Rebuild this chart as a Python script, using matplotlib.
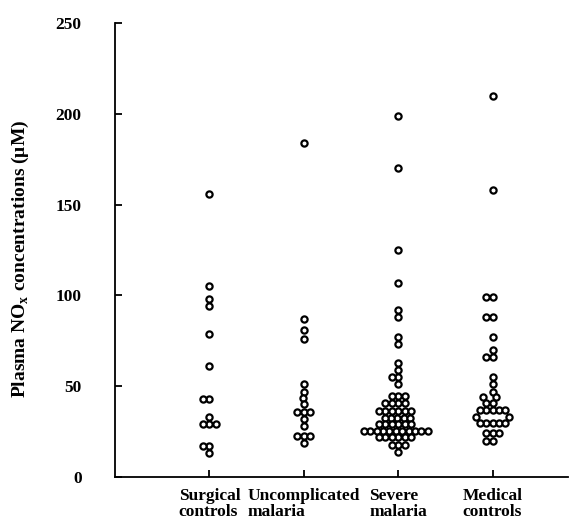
import numpy as np
import matplotlib
matplotlib.use('Agg')
from matplotlib import pyplot as plt

# values (uM)
groups = ['Surgical\ncontrols', 'Uncomplicated\nmalaria', 'Severe\nmalaria', 'Medical\ncontrols']

surgical = [156, 105, 98, 94, 79, 61, 43, 43, 33, 29, 29, 29, 17, 17, 13]
uncomplicated = [184, 87, 81, 76, 51, 47, 43.5, 40, 36, 36, 36, 32, 28,
                 22.5, 22.5, 22.5, 18.5]
severe = ([199, 170, 125, 107, 92, 88, 77, 73, 63, 59, 55, 55, 51]
          + [44.6] * 3 + [40.7] * 4 + [36.3] * 6 + [32.5] * 5 + [29] * 6
          + [25.3] * 11 + [22] * 6 + [17.6] * 3 + [13.8])
medical = ([210, 158, 99, 99, 88, 88, 77, 70, 66, 66, 55, 51, 47, 44, 44, 41, 41]
           + [37] * 5 + [33] * 2 + [30] * 5 + [24] * 3 + [20] * 2)
all_values = [surgical, uncomplicated, severe, medical]

yticks = [0, 50, 100, 150, 200, 250]

plt.rcParams['font.family'] = ['Liberation Serif', 'DejaVu Serif']
plt.rcParams['font.weight'] = 'bold'

W, H, DPI = 570, 525, 100
fig = plt.figure(figsize=(W / DPI, H / DPI), dpi=DPI)
ax = fig.add_axes([115 / W, 48 / H, 453 / W, 454 / H])
ax.set_xlim(0, 4.8)
ax.set_ylim(0, 250)


def swarm_offsets(ys, d):
    """beeswarm x offsets (pixels) for y positions in pixels"""
    offs = np.zeros(len(ys))
    px_list, py_list = [], []
    for i in np.argsort(ys, kind='stable'):
        y = ys[i]
        cands = [0.0]
        for px, py in zip(px_list, py_list):
            dy = abs(y - py)
            if dy < d:
                dx = np.sqrt(d * d - dy * dy)
                cands += [px - dx, px + dx]
        cands.sort(key=abs)
        for c in cands:
            if all((c - px) ** 2 + (y - py) ** 2 >= d * d - 1e-6
                   for px, py in zip(px_list, py_list)):
                offs[i] = c
                px_list.append(c)
                py_list.append(y)
                break
    return offs


# pixel scales of the axes
px_per_x = 453 / 4.8
px_per_y = 454 / 250
dot_gap = 6.4

for i, vals in enumerate(all_values):
    vals = np.array(vals, dtype=float)
    offs = swarm_offsets(vals * px_per_y, dot_gap) / px_per_x
    ax.scatter(i + 1 + offs, vals, s=20, facecolors='white',
               edgecolors='black', linewidths=1.6, zorder=3, clip_on=False)

for side in ['top', 'right']:
    ax.spines[side].set_visible(False)
for side in ['left', 'bottom']:
    ax.spines[side].set_linewidth(1.3)

ax.set_yticks(yticks)
ax.set_xticks(np.arange(1, len(groups) + 1))
ax.set_xticklabels(groups, fontsize=12.5, multialignment='left',
                   linespacing=0.95)
ax.tick_params(axis='x', direction='in', length=5, width=1.3, pad=8)
ax.tick_params(axis='y', direction='in', length=5, width=1.3, pad=24,
               labelsize=12.5)

ax.set_ylabel(r'Plasma NO$_\mathregular{x}$ concentrations ($\mathregular{\mu}$M)',
              fontsize=14, fontweight='bold')
ax.yaxis.set_label_coords(-0.185, 0.48)

plt.savefig('out.png', dpi=DPI)
